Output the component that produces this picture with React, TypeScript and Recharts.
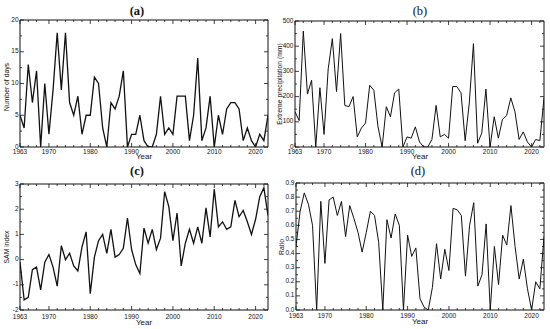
import React from 'react';
import { LineChart, Line, XAxis, YAxis } from 'recharts';

const years = [
  1963, 1964, 1965, 1966, 1967, 1968, 1969, 1970, 1971, 1972,
  1973, 1974, 1975, 1976, 1977, 1978, 1979, 1980, 1981, 1982,
  1983, 1984, 1985, 1986, 1987, 1988, 1989, 1990, 1991, 1992,
  1993, 1994, 1995, 1996, 1997, 1998, 1999, 2000, 2001, 2002,
  2003, 2004, 2005, 2006, 2007, 2008, 2009, 2010, 2011, 2012,
  2013, 2014, 2015, 2016, 2017, 2018, 2019, 2020, 2021, 2022, 2023,
];

const daysValues = [
  5, 3, 13, 7, 12, 0, 10, 2, 9, 18,
  9, 18, 7, 5, 8, 2, 5, 5, 11, 10,
  3, 0, 7, 6, 8, 12, 0, 2, 2, 5,
  1, 0, 0, 2, 8, 2, 3, 2, 8, 8,
  8, 1, 5, 14, 1, 3, 8, 0, 5, 2,
  6, 7, 7, 6, 1, 3, 1, 0, 2, 1, 5,
];

const precipValues = [
  140, 105, 460, 210, 265, 0, 235, 50, 310, 430,
  220, 450, 165, 160, 200, 40, 75, 95, 245, 225,
  80, 0, 160, 120, 215, 230, 0, 40, 35, 80,
  20, 0, 0, 30, 165, 40, 50, 35, 240, 240,
  215, 25, 175, 410, 15, 55, 230, 0, 120, 35,
  110, 125, 195, 140, 30, 60, 20, 0, 30, 25, 195,
];

const samValues = [
  -0.1, -1.6, -1.5, -0.4, -0.3, -1.2, -0.1, 0.2, -0.3, -1.05,
  0.55, 0.0, 0.25, -0.25, -0.45, 0.5, 1.1, -1.35, 0.1, 0.75,
  1.0, 0.25, 1.2, 0.1, 0.2, 0.45, 1.65, 0.4, -0.2, -0.55,
  1.25, 0.65, 1.2, 0.4, 0.85, 2.7, 2.1, 0.75, 1.85, -0.25,
  0.65, 1.2, 0.65, 1.3, 0.65, 2.05, 0.9, 2.8, 1.3, 1.5,
  1.2, 1.3, 2.35, 1.7, 1.95, 1.5, 1.0, 1.6, 2.5, 2.85, 1.75,
];

const ratioValues = [
  0.45, 0.7, 0.83, 0.75, 0.6, 0.0, 0.77, 0.33, 0.78, 0.8,
  0.67, 0.77, 0.52, 0.74, 0.65, 0.55, 0.41, 0.55, 0.7, 0.67,
  0.48, 0.0, 0.64, 0.51, 0.68, 0.6, 0.0, 0.53, 0.38, 0.44,
  0.08, 0.02, 0.0, 0.16, 0.47, 0.22, 0.43, 0.28, 0.72, 0.71,
  0.67, 0.24, 0.6, 0.76, 0.17, 0.25, 0.61, 0.0, 0.45, 0.18,
  0.53, 0.46, 0.74, 0.45, 0.22, 0.36, 0.15, 0.0, 0.2, 0.15, 0.52,
];

const xMajorTicks = [1963, 1970, 1980, 1990, 2000, 2010, 2020];
const xMinorTicks = [
  1965, 1967, 1972, 1974, 1976, 1978, 1982, 1984, 1986, 1988,
  1992, 1994, 1996, 1998, 2002, 2004, 2006, 2008, 2012, 2014,
  2016, 2018, 2022,
];

const daysTicks = [0, 5, 10, 15, 20];
const daysMinor = [2.5, 7.5, 12.5, 17.5];
const precipTicks = [0, 100, 200, 300, 400, 500];
const precipMinor = [50, 150, 250, 350, 450];
const samTicks = [-2, -1, 0, 1, 2, 3];
const samMinor = [-1.5, -0.5, 0.5, 1.5, 2.5];
const ratioTicks = [0, 0.1, 0.2, 0.3, 0.4, 0.5, 0.6, 0.7, 0.8, 0.9];
const ratioMinor = [0.05, 0.15, 0.25, 0.35, 0.45, 0.55, 0.65, 0.75, 0.85];

const titles = ['(a)', '(b)', '(c)', '(d)'];
const yLabels = ['Number of days', 'Extreme precipitation (mm)', 'SAM index', 'Ratio'];
const xLabel = 'Year';

const FONT = '"Liberation Sans", Arial, sans-serif';
const SERIF = '"Liberation Serif", "Times New Roman", serif';
const INK = '#111111';

const near = (arr: number[], v: number) => arr.some((a) => Math.abs(a - v) < 1e-9);

function makeXTick(side: 'bottom' | 'top', labelDy: number) {
  return (props: any) => {
    const { x, y, payload } = props;
    const v = payload.value;
    const major = near(xMajorTicks, v);
    const len = major ? 4 : 2;
    const dir = side === 'bottom' ? -1 : 1;
    return (
      <g>
        <line x1={x} y1={y} x2={x} y2={y + dir * len} stroke={INK} strokeWidth={0.8} />
        {side === 'bottom' && major ? (
          <text x={x} y={y + labelDy} textAnchor="middle" dominantBaseline="central" fontSize={6.5} fontFamily={FONT} fill={INK}>
            {v}
          </text>
        ) : null}
      </g>
    );
  };
}

function makeYTick(side: 'left' | 'right', majors: number[], fmt: (v: number) => string) {
  return (props: any) => {
    const { x, y, payload } = props;
    const v = payload.value;
    const major = near(majors, v);
    const len = major ? 4 : 2;
    const dir = side === 'left' ? 1 : -1;
    return (
      <g>
        <line x1={x} y1={y} x2={x + dir * len} y2={y} stroke={INK} strokeWidth={0.8} />
        {side === 'left' && major ? (
          <text x={x - 1.5} y={y - 1} textAnchor="end" dominantBaseline="central" fontSize={6.5} fontFamily={FONT} fill={INK}>
            {fmt(v)}
          </text>
        ) : null}
      </g>
    );
  };
}

type PanelProps = {
  values: number[];
  majors: number[];
  minors: number[];
  fmt: (v: number) => string;
  left: number;
  top: number;
  width: number;
  height: number;
  plotTop: number;
  plotRight: number;
  plotBottom: number;
  plotLeft: number;
  labelDy: number;
  strokeWidth: number;
};

function Panel(p: PanelProps) {
  const data = years.map((year, i) => ({ year, value: p.values[i] }));
  const domain: [number, number] = [p.majors[0], p.majors[p.majors.length - 1]];
  const yTicks = [...p.majors, ...p.minors].sort((a, b) => a - b);
  const xTicks = [...xMajorTicks, ...xMinorTicks].sort((a, b) => a - b);
  const margin = { top: p.plotTop - 1, right: p.plotRight - 1, bottom: 0, left: 0 };
  return (
    <div style={{ position: 'absolute', left: p.left, top: p.top }}>
      <LineChart width={p.width} height={p.height} data={data} margin={margin}>
        <XAxis
          dataKey="year"
          type="number"
          domain={[1963, 2023]}
          allowDataOverflow
          ticks={xTicks}
          interval={0}
          height={p.plotBottom}
          tickSize={0}
          tickMargin={0}
          tickLine={false}
          stroke={INK}
          tick={makeXTick('bottom', p.labelDy)}
        />
        <XAxis
          xAxisId="top"
          orientation="top"
          dataKey="year"
          type="number"
          domain={[1963, 2023]}
          allowDataOverflow
          ticks={xTicks}
          interval={0}
          height={1}
          tickSize={0}
          tickMargin={0}
          tickLine={false}
          stroke={INK}
          tick={makeXTick('top', 0)}
        />
        <YAxis
          type="number"
          domain={domain}
          allowDataOverflow
          ticks={yTicks}
          interval={0}
          width={p.plotLeft}
          tickSize={0}
          tickMargin={0}
          tickLine={false}
          stroke={INK}
          tick={makeYTick('left', p.majors, p.fmt)}
        />
        <YAxis
          yAxisId="right"
          orientation="right"
          type="number"
          domain={domain}
          allowDataOverflow
          ticks={yTicks}
          interval={0}
          width={1}
          tickSize={0}
          tickMargin={0}
          tickLine={false}
          stroke={INK}
          tick={makeYTick('right', p.majors, p.fmt)}
        />
        <Line
          type="linear"
          dataKey="value"
          stroke={INK}
          strokeWidth={p.strokeWidth}
          dot={false}
          isAnimationActive={false}
        />
      </LineChart>
    </div>
  );
}

export default function App() {
  return (
    <div style={{ position: 'absolute', left: 0, top: 0, width: 550, height: 329, background: '#fff', overflow: 'hidden' }}>
      <Panel
        values={daysValues}
        majors={daysTicks}
        minors={daysMinor}
        fmt={(v) => String(v)}
        left={0}
        top={0}
        width={275}
        height={160}
        plotTop={20}
        plotRight={7}
        plotBottom={13}
        plotLeft={20}
        labelDy={4.5}
        strokeWidth={1.3}
      />
      <Panel
        values={precipValues}
        majors={precipTicks}
        minors={precipMinor}
        fmt={(v) => String(v)}
        left={275}
        top={0}
        width={275}
        height={160}
        plotTop={21}
        plotRight={6}
        plotBottom={13}
        plotLeft={20}
        labelDy={4.5}
        strokeWidth={1}
      />
      <Panel
        values={samValues}
        majors={samTicks}
        minors={samMinor}
        fmt={(v) => String(v)}
        left={0}
        top={160}
        width={275}
        height={169}
        plotTop={24}
        plotRight={7}
        plotBottom={19}
        plotLeft={20}
        labelDy={6.5}
        strokeWidth={1.3}
      />
      <Panel
        values={ratioValues}
        majors={ratioTicks}
        minors={ratioMinor}
        fmt={(v) => v.toFixed(1)}
        left={275}
        top={160}
        width={275}
        height={169}
        plotTop={23}
        plotRight={6}
        plotBottom={19}
        plotLeft={21}
        labelDy={5.5}
        strokeWidth={1}
      />
      <svg width={550} height={329} style={{ position: 'absolute', left: 0, top: 0, pointerEvents: 'none' }}>
        <g fontFamily={SERIF} fontSize={12.5} fill={INK} textAnchor="middle" dominantBaseline="central">
          <text x={137} y={11} fontWeight="bold" fill={INK}>{titles[0]}</text>
          <text x={420} y={11} fill={INK}>{titles[1]}</text>
          <text x={137} y={171} fontWeight="bold" fill={INK}>{titles[2]}</text>
          <text x={418} y={171} fill={INK}>{titles[3]}</text>
        </g>
        <g fontFamily={FONT} fontSize={6.8} fill={INK} textAnchor="middle" dominantBaseline="central">
          <text x={6} y={87} transform="rotate(-90 6 87)" fill={INK}>{yLabels[0]}</text>
          <text x={279.5} y={84} transform="rotate(-90 279.5 84)" fill={INK}>{yLabels[1]}</text>
          <text x={6.5} y={247} transform="rotate(-90 6.5 247)" fill={INK}>{yLabels[2]}</text>
          <text x={281} y={247} transform="rotate(-90 281 247)" fill={INK}>{yLabels[3]}</text>
        </g>
        <g fontFamily={FONT} fontSize={8} fill={INK} textAnchor="middle" dominantBaseline="central">
          <text x={144} y={156.5} fill={INK}>{xLabel}</text>
          <text x={420} y={156.5} fill={INK}>{xLabel}</text>
          <text x={144} y={322} fill={INK}>{xLabel}</text>
          <text x={420} y={321} fill={INK}>{xLabel}</text>
        </g>
      </svg>
    </div>
  );
}
